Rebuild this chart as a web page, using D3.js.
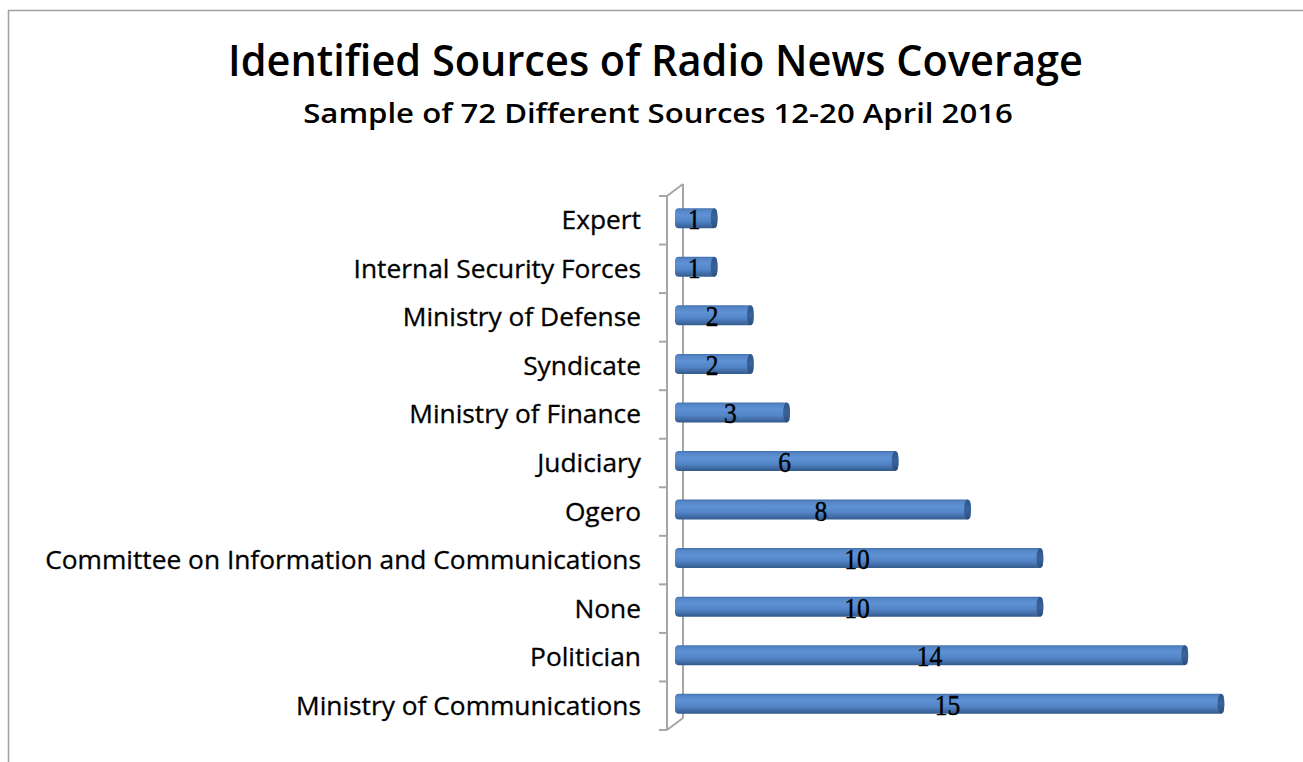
<!DOCTYPE html>
<html>
<head>
<meta charset="utf-8">
<script src="https://cdn.jsdelivr.net/npm/d3@7"></script>
<style>
  html, body { margin: 0; padding: 0; background: #fff; }
  svg { display: block; }
</style>
</head>
<body>
<svg id="chart" width="1303" height="762"></svg>
<script>
// Sources cited in radio news items, ordered top to bottom as drawn
const categories = [
  "Expert",
  "Internal Security Forces",
  "Ministry of Defense",
  "Syndicate",
  "Ministry of Finance",
  "Judiciary",
  "Ogero",
  "Committee on Information and Communications",
  "None",
  "Politician",
  "Ministry of Communications"
];
const counts = [1, 1, 2, 2, 3, 6, 8, 10, 10, 14, 15];

const titleText = "Identified Sources of Radio News Coverage";
const subtitleText = "Sample of 72 Different Sources 12-20 April 2016";

const sansFont = "'Open Sans', 'Noto Sans', sans-serif";

const svg = d3.select("#chart");

// outer frame (left and top edges visible)
svg.append("path")
  .attr("d", "M8.5,762 L8.5,10.5 L1303,10.5")
  .attr("fill", "none")
  .attr("stroke", "#a0a0a0")
  .attr("stroke-width", 1.5);

// horizontal factor that brings a text element to a target width
function fitWidth(sel, target) {
  const w = sel.node().getComputedTextLength();
  return target / w;
}

// titles
const title = svg.append("text")
  .attr("font-family", sansFont)
  .attr("font-weight", 600)
  .attr("font-size", 43)
  .attr("fill", "#000")
  .attr("text-anchor", "middle")
  .text(titleText);
{
  const k = fitWidth(title, 855);
  title.attr("transform", `translate(655.5,76) scale(${k},1)`);
}
const subtitle = svg.append("text")
  .attr("font-family", sansFont)
  .attr("font-weight", 600)
  .attr("font-size", 27)
  .attr("fill", "#000")
  .attr("text-anchor", "middle")
  .text(subtitleText);
{
  const k = fitWidth(subtitle, 710);
  subtitle.attr("transform", `translate(658,123) scale(${k},1)`);
}

// scales
const y = d3.scaleBand().domain(categories).range([196, 730]).paddingInner(0).paddingOuter(0);
const x = d3.scaleLinear().domain([0, 15]).range([681, 1224]);

const frontX = 667, depthX = 16, depthY = -12;

// 3D side wall of the category axis
const wall = svg.append("g")
  .attr("fill", "none")
  .attr("stroke", "#a6a6a6")
  .attr("stroke-width", 2);
wall.append("path")
  .attr("d", `M${frontX},${y.range()[0]} L${frontX},${y.range()[1]}`);
wall.append("path")
  .attr("d", `M${frontX + depthX},${y.range()[0] + depthY} L${frontX + depthX},${y.range()[1] + depthY}`);
wall.append("path")
  .attr("d", `M${frontX},${y.range()[0]} L${frontX + depthX},${y.range()[0] + depthY}`);
wall.append("path")
  .attr("d", `M${frontX},${y.range()[1]} L${frontX + depthX},${y.range()[1] + depthY}`);

// tick marks between categories
const tickYs = categories.map(c => y(c)).concat([y.range()[1]]);
wall.selectAll("line.tick")
  .data(tickYs)
  .join("line")
  .attr("class", "tick")
  .attr("x1", frontX - 8)
  .attr("x2", frontX)
  .attr("y1", d => d)
  .attr("y2", d => d);

// cylinder shading
const defs = svg.append("defs");
const grad = defs.append("linearGradient")
  .attr("id", "barGrad")
  .attr("x1", 0).attr("y1", 0).attr("x2", 0).attr("y2", 1);
[
  [0, "#4572ae"],
  [0.12, "#5687c8"],
  [0.35, "#5e92d4"],
  [0.65, "#5284c6"],
  [0.85, "#416ca6"],
  [1, "#325989"]
].forEach(([o, c]) => grad.append("stop").attr("offset", o).attr("stop-color", c));

const capGrad = defs.append("linearGradient")
  .attr("id", "capGrad")
  .attr("x1", 0).attr("y1", 0).attr("x2", 0).attr("y2", 1);
[
  [0, "#2f5587"],
  [0.5, "#3a639b"],
  [1, "#2b4d7c"]
].forEach(([o, c]) => capGrad.append("stop").attr("offset", o).attr("stop-color", c));

const barH = 20;
const leftStart = x(0) - 6;
const bars = svg.append("g").selectAll("g.bar")
  .data(categories.map((c, i) => ({ c, v: counts[i] })))
  .join("g")
  .attr("class", "bar");

const barTop = d => y(d.c) + y.bandwidth() / 2 - 2 - barH / 2;

bars.append("rect")
  .attr("x", leftStart)
  .attr("y", barTop)
  .attr("width", d => x(d.v) - leftStart)
  .attr("height", barH)
  .attr("rx", 4)
  .attr("ry", 4)
  .attr("fill", "url(#barGrad)");

bars.append("ellipse")
  .attr("cx", d => x(d.v) - 3)
  .attr("cy", d => barTop(d) + barH / 2)
  .attr("rx", 3.5)
  .attr("ry", barH / 2)
  .attr("fill", "url(#capGrad)");

// value labels
bars.append("text")
  .attr("transform", d => `translate(${(leftStart + x(d.v)) / 2 - 2},${y(d.c) + y.bandwidth() / 2 + 9}) scale(0.85,1)`)
  .attr("text-anchor", "middle")
  .attr("font-family", "'Liberation Serif', 'Times New Roman', serif")
  .attr("font-size", 30)
  .attr("fill", "#000")
  .attr("stroke", "#000")
  .attr("stroke-width", 0.4)
  .text(d => d.v);

// category labels, right-aligned against the axis
const labelG = svg.append("g");
const labels = labelG.selectAll("text")
  .data(categories)
  .join("text")
  .attr("text-anchor", "end")
  .attr("font-family", sansFont)
  .attr("font-size", 25)
  .attr("fill", "#000")
  .attr("stroke", "#000")
  .attr("stroke-width", 0.3)
  .attr("y", d => y(d) + y.bandwidth() / 2 + 9)
  .text(d => d);
{
  const longest = labels.filter(d => d === "Committee on Information and Communications");
  const k = fitWidth(longest, 596);
  labelG.attr("transform", `translate(641,0) scale(${k},1)`);
}
</script>
</body>
</html>
